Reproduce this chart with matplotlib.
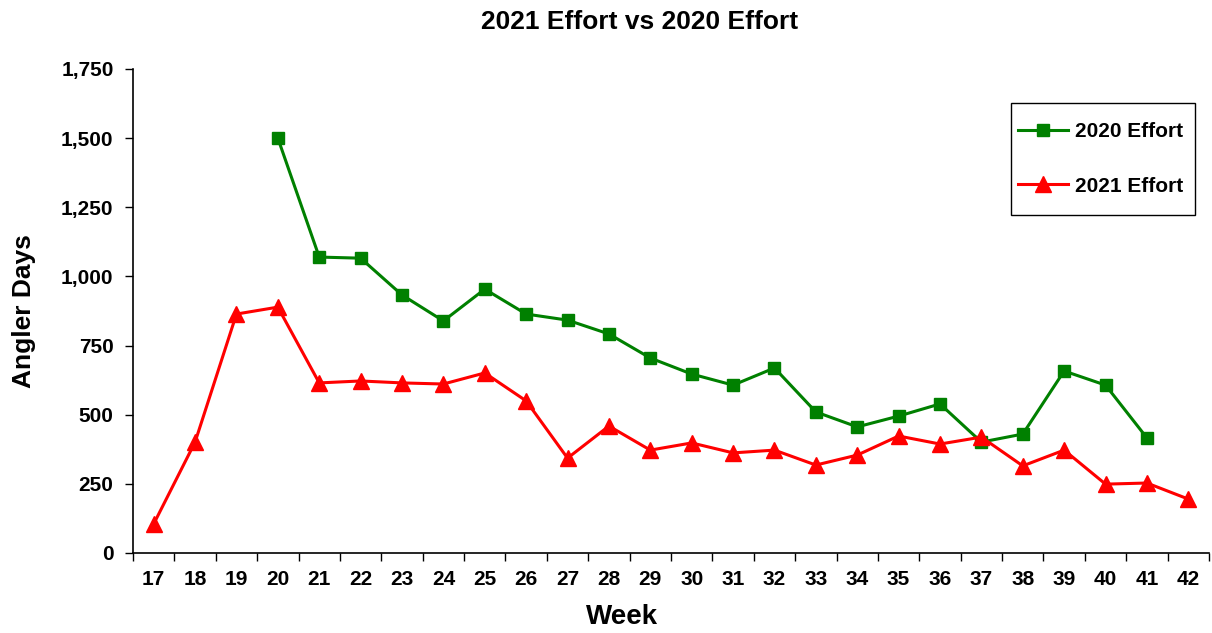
import matplotlib
matplotlib.use("Agg")
import matplotlib.pyplot as plt
from matplotlib.patches import Rectangle
from matplotlib.ticker import FuncFormatter, MultipleLocator, FixedLocator

plt.rcParams['font.family'] = ['Liberation Sans', 'DejaVu Sans']
plt.rcParams['font.weight'] = 'bold'

weeks = list(range(17, 43))
weeks_2020 = list(range(20, 42))
effort_2020 = [1500, 1070, 1066, 933, 839, 954, 864, 842, 792, 705, 647, 607,
               669, 510, 456, 495, 539, 401, 430, 658, 607, 416]
effort_2021 = [105, 401, 864, 889, 615, 622, 615, 611, 651, 550, 343, 459, 372,
               398, 362, 372, 318, 354, 423, 394, 419, 315, 372, 249, 253, 195]

W, H = 1212, 633
fig = plt.figure(figsize=(W / 100, H / 100), dpi=100)
ax = fig.add_axes([133 / W, 80 / H, (1209 - 133) / W, (553 - 69) / H])

x2020 = [weeks.index(w) for w in weeks_2020]
x2021 = list(range(len(weeks)))

ax.plot(x2020, effort_2020, color='#008000', lw=2.2, marker='s', ms=9,
        label='2020 Effort')
ax.plot(x2021, effort_2021, color='#FF0000', lw=2.2, marker='^', ms=11,
        label='2021 Effort')

ax.set_xlim(-0.5, len(weeks) - 0.5)
ax.set_ylim(0, 1750)
ax.yaxis.set_major_locator(MultipleLocator(250))
ax.yaxis.set_major_formatter(FuncFormatter(lambda v, p: f"{int(v):,}"))

ax.set_xticks(x2021)
ax.set_xticklabels([str(w) for w in weeks])
ax.xaxis.set_minor_locator(FixedLocator([i - 0.5 for i in range(len(weeks) + 1)]))
ax.tick_params(axis='x', which='major', length=0, pad=12, labelsize=15)
ax.tick_params(axis='x', which='minor', length=6, width=1, direction='out')
ax.tick_params(axis='y', length=6, width=1, direction='out', pad=8, labelsize=15)

for s in ['top', 'right']:
    ax.spines[s].set_visible(False)
for s in ['left', 'bottom']:
    ax.spines[s].set_linewidth(1.2)

fig.text(640 / W, 1 - 22 / H, '2021 Effort vs 2020 Effort', fontsize=19,
         fontweight='bold', ha='center', va='center')
fig.text(622 / W, 1 - 617 / H, 'Week', fontsize=20, fontweight='bold',
         ha='center', va='center')
ax.set_ylabel('Angler Days', fontsize=19, fontweight='bold', labelpad=18)

leg = ax.legend(loc='center left', bbox_to_anchor=(1008 / W, 1 - 159 / H),
                bbox_transform=fig.transFigure, fontsize=15, frameon=False,
                labelspacing=1.7, borderpad=0, handlelength=2.4,
                handletextpad=0.3)
fig.patches.append(Rectangle((1011 / W, 1 - 215 / H), 184 / W, 112 / H,
                             transform=fig.transFigure, fill=False,
                             edgecolor='black', linewidth=1.0))

fig.savefig('out.png', dpi=100)
